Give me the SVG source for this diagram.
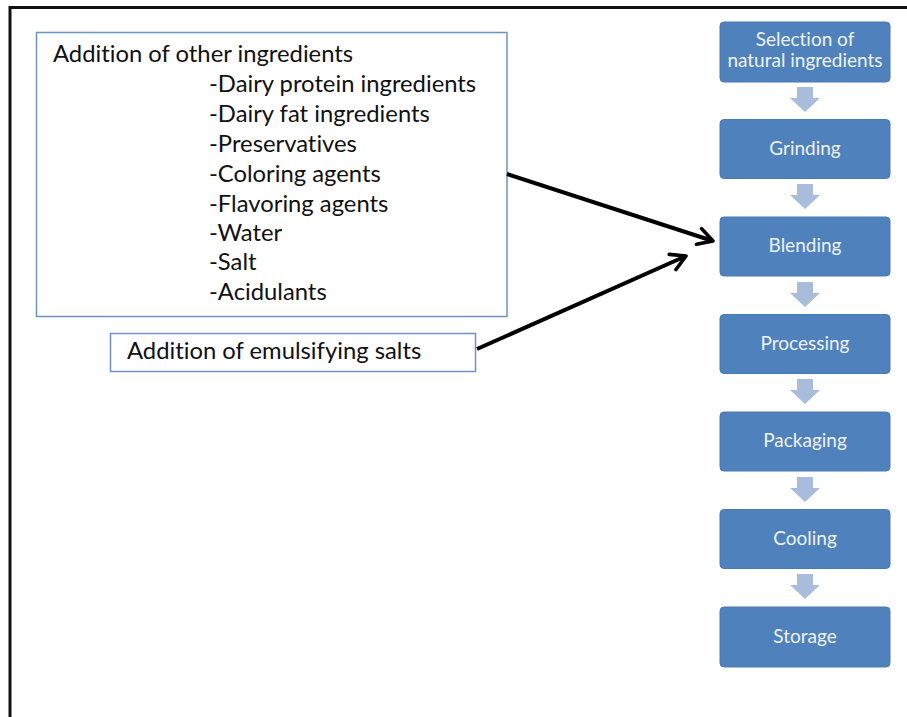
<svg xmlns="http://www.w3.org/2000/svg" width="907" height="717" viewBox="0 0 907 717">
<defs>
<style>
text{font-variant-ligatures:none}
.lt{font-family:Lato,"Open Sans","Liberation Sans",sans-serif;font-size:23.8px;fill:#111}
.bx{fill:#fff;stroke:#6d93c8;stroke-width:1.5}
.st{fill:#4f81bd;stroke:#4a7ab3;stroke-width:1}
.stt{font-family:Lato,"Open Sans","Liberation Sans",sans-serif;font-size:19px;fill:#eef2f8;text-anchor:middle}
.da{fill:#a8bddc}
.con{fill:none;stroke:#000;stroke-width:4;marker-end:url(#open)}
</style>
<marker id="open" viewBox="0 0 12 12" refX="10" refY="6" markerWidth="5.5" markerHeight="5.5" markerUnits="strokeWidth" orient="auto">
<path d="M2,1.5 L10,6 L2,10.5" fill="none" stroke="#000" stroke-width="2" stroke-linecap="round" stroke-linejoin="round"/>
</marker>
<path id="dn" d="M-8,0 H8 V11 H15 L0,25 L-15,11 H-8 Z"/>
</defs>
<rect width="907" height="717" fill="#fff"/>
<path d="M10,717 V7.5 H907" fill="none" stroke="#111" stroke-width="3"/>

<g id="other-ingredients">
<rect class="bx" x="36.5" y="32.5" width="470.5" height="284"/>
<text class="lt" x="53" y="62">Addition of other ingredients</text>
<text class="lt" x="209" y="92">-Dairy protein ingredients</text>
<text class="lt" x="209" y="122">-Dairy fat ingredients</text>
<text class="lt" x="209" y="152">-Preservatives</text>
<text class="lt" x="209" y="182">-Coloring agents</text>
<text class="lt" x="209" y="212">-Flavoring agents</text>
<text class="lt" x="209" y="241">-Water</text>
<text class="lt" x="209" y="270">-Salt</text>
<text class="lt" x="209" y="300">-Acidulants</text>
</g>
<g id="emulsifying-salts">
<rect class="bx" x="110.5" y="333.5" width="365" height="38"/>
<text class="lt" x="127" y="359">Addition of emulsifying salts</text>
</g>

<g id="selection">
<rect class="st" x="720" y="22" width="170" height="60" rx="4"/>
<text class="stt" x="805" y="46">Selection of</text>
<text class="stt" x="805" y="67">natural ingredients</text>
</g>
<g id="grinding"><rect class="st" x="720" y="119.5" width="170" height="59" rx="4"/><text class="stt" x="805" y="155">Grinding</text></g>
<g id="blending"><rect class="st" x="720" y="217" width="170" height="59" rx="4"/><text class="stt" x="805" y="252">Blending</text></g>
<g id="processing"><rect class="st" x="720" y="314.5" width="170" height="59" rx="4"/><text class="stt" x="805" y="350">Processing</text></g>
<g id="packaging"><rect class="st" x="720" y="412" width="170" height="59" rx="4"/><text class="stt" x="805" y="447">Packaging</text></g>
<g id="cooling"><rect class="st" x="720" y="509.5" width="170" height="59" rx="4"/><text class="stt" x="805" y="545">Cooling</text></g>
<g id="storage"><rect class="st" x="720" y="607" width="170" height="60" rx="4"/><text class="stt" x="805" y="643">Storage</text></g>

<g id="connectors">
<use href="#dn" class="da" x="805" y="87"/>
<use href="#dn" class="da" x="805" y="184"/>
<use href="#dn" class="da" x="805" y="282"/>
<use href="#dn" class="da" x="805" y="379"/>
<use href="#dn" class="da" x="805" y="477"/>
<use href="#dn" class="da" x="805" y="574"/>
<path class="con" d="M507,174 L713,241"/>
<path class="con" d="M477,349 L686,256"/>
</g>
</svg>
